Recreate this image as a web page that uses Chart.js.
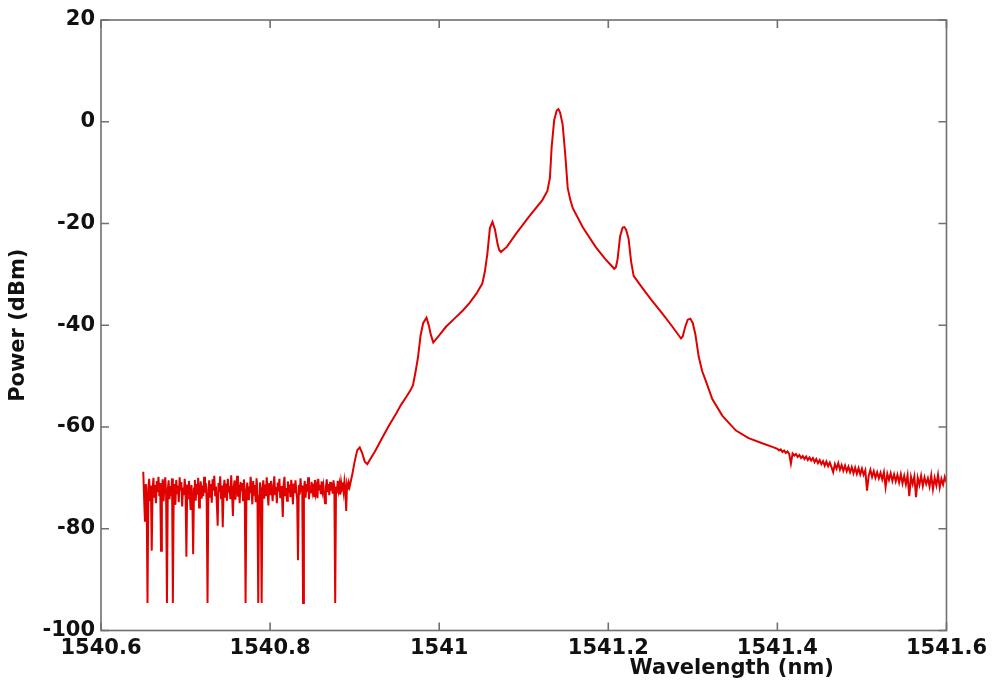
<!DOCTYPE html>
<html>
<head>
<meta charset="utf-8">
<script src="https://cdn.jsdelivr.net/npm/chart.js@4.4.1/dist/chart.umd.min.js"></script>
<style>
  html, body { margin: 0; padding: 0; background: #ffffff; }
  #wrap { width: 992px; height: 687px; }
</style>
</head>
<body>
<div id="wrap"><canvas id="spectrum" width="992" height="687"></canvas></div>
<script>
// Axis ticks
const xTicks = [1540.6, 1540.8, 1541, 1541.2, 1541.4, 1541.6];
const yTicks = [-100, -80, -60, -40, -20, 0, 20];
const xTitle = 'Wavelength (nm)';
const yTitle = 'Power (dBm)';

// Noise floor on the short-wavelength side (nm / dBm)
const floorWl = [
  1540.650,1540.651,1540.652,1540.653,1540.654,1540.655,1540.656,1540.657,1540.658,1540.659,
  1540.660,1540.661,1540.662,1540.663,1540.664,1540.665,1540.666,1540.667,1540.668,1540.669,
  1540.670,1540.671,1540.672,1540.673,1540.674,1540.675,1540.676,1540.677,1540.678,1540.679,
  1540.680,1540.681,1540.682,1540.683,1540.684,1540.685,1540.686,1540.687,1540.688,1540.689,
  1540.690,1540.691,1540.692,1540.693,1540.694,1540.695,1540.696,1540.697,1540.698,1540.699,
  1540.700,1540.701,1540.702,1540.703,1540.704,1540.705,1540.706,1540.707,1540.708,1540.709,
  1540.710,1540.711,1540.712,1540.713,1540.714,1540.715,1540.716,1540.717,1540.718,1540.719,
  1540.720,1540.721,1540.722,1540.723,1540.724,1540.725,1540.726,1540.727,1540.728,1540.729,
  1540.730,1540.731,1540.732,1540.733,1540.734,1540.735,1540.736,1540.737,1540.738,1540.739,
  1540.740,1540.741,1540.742,1540.743,1540.744,1540.745,1540.746,1540.747,1540.748,1540.749,
  1540.750,1540.751,1540.752,1540.753,1540.754,1540.755,1540.756,1540.757,1540.758,1540.759,
  1540.760,1540.761,1540.762,1540.763,1540.764,1540.765,1540.766,1540.767,1540.768,1540.769,
  1540.770,1540.771,1540.772,1540.773,1540.774,1540.775,1540.776,1540.777,1540.778,1540.779,
  1540.780,1540.781,1540.782,1540.783,1540.784,1540.785,1540.786,1540.787,1540.788,1540.789,
  1540.790,1540.791,1540.792,1540.793,1540.794,1540.795,1540.796,1540.797,1540.798,1540.799,
  1540.800,1540.801,1540.802,1540.803,1540.804,1540.805,1540.806,1540.807,1540.808,1540.809,
  1540.810,1540.811,1540.812,1540.813,1540.814,1540.815,1540.816,1540.817,1540.818,1540.819,
  1540.820,1540.821,1540.822,1540.823,1540.824,1540.825,1540.826,1540.827,1540.828,1540.829,
  1540.830,1540.831,1540.832,1540.833,1540.834,1540.835,1540.836,1540.837,1540.838,1540.839,
  1540.840,1540.841,1540.842,1540.843,1540.844,1540.845,1540.846,1540.847,1540.848,1540.849,
  1540.850,1540.851,1540.852,1540.853,1540.854,1540.855,1540.856,1540.857,1540.858,1540.859,
  1540.860,1540.861,1540.862,1540.863,1540.864,1540.865,1540.866,1540.867,1540.868,1540.869,
  1540.870,1540.871,1540.872,1540.873,1540.874,1540.875,1540.876,1540.877,1540.878,1540.879,
  1540.880,1540.881,1540.882,1540.883,1540.884,1540.885,1540.886,1540.887,1540.888,1540.889,
  1540.890,1540.891,1540.892,1540.893,1540.894
];
const floorPw = [
  -68.8,-74.0,-78.6,-71.2,-73.8,-94.6,-72.0,-70.2,-74.4,-71.5,
  -84.3,-72.6,-70.0,-73.9,-71.4,-75.0,-70.6,-72.8,-69.8,-73.6,
  -71.0,-84.3,-72.2,-70.3,-74.6,-71.8,-69.9,-73.2,-94.6,-72.4,
  -70.5,-74.2,-71.6,-73.5,-70.1,-94.6,-72.8,-71.2,-75.3,-70.4,
  -73.0,-71.5,-74.8,-69.9,-72.5,-70.8,-75.6,-71.9,-73.4,-70.2,
  -72.7,-85.5,-71.3,-74.0,-70.6,-73.1,-76.3,-71.4,-73.8,-85.0,
  -72.1,-70.4,-74.5,-71.2,-73.3,-70.0,-75.8,-72.6,-70.7,-74.1,
  -71.5,-73.6,-69.8,-72.9,-71.0,-74.6,-94.6,-72.3,-70.5,-73.7,
  -71.2,-74.9,-70.3,-72.5,-69.6,-73.4,-71.7,-75.1,-79.4,-71.0,
  -72.8,-69.7,-74.0,-71.5,-79.7,-72.2,-70.4,-73.9,-71.1,-74.5,
  -70.2,-72.9,-71.6,-74.2,-69.5,-73.0,-77.5,-71.8,-70.5,-74.3,
  -72.0,-69.6,-73.7,-71.3,-75.0,-70.8,-72.6,-71.0,-74.4,-70.3,
  -72.5,-94.6,-73.1,-70.9,-74.2,-71.7,-73.0,-69.8,-72.4,-75.2,
  -70.6,-73.3,-71.4,-74.8,-70.1,-72.7,-94.6,-73.5,-70.9,-72.8,
  -94.6,-72.0,-70.5,-74.1,-71.3,-73.6,-69.9,-72.6,-75.4,-71.0,
  -73.2,-70.6,-72.4,-74.6,-71.5,-69.7,-73.4,-71.8,-75.0,-70.9,
  -72.7,-70.2,-74.0,-71.6,-73.1,-77.7,-71.2,-69.8,-73.6,-72.0,
  -74.5,-70.7,-72.9,-71.3,-73.8,-70.4,-72.2,-75.2,-71.1,-73.0,
  -70.5,-72.6,-74.1,-86.2,-71.4,-73.3,-70.1,-72.8,-71.5,-94.6,
  -72.4,-70.6,-73.9,-71.2,-72.7,-69.9,-74.2,-71.6,-73.0,-70.8,
  -72.5,-71.1,-73.6,-70.4,-72.9,-71.8,-74.0,-70.2,-72.3,-71.4,
  -73.2,-70.7,-72.6,-71.5,-73.5,-75.0,-71.9,-70.3,-72.8,-71.2,
  -73.4,-70.8,-72.5,-71.0,-73.1,-70.5,-72.2,-94.6,-71.7,-73.0,
  -70.6,-72.4,-71.3,-73.3,-70.9,-72.1,-71.6,-72.9,-70.7,-72.0,
  -76.5,-71.4,-72.3,-71.0,-71.8
];

// Comb of lines around the carrier
const combWl = [
  1540.897,1540.900,1540.903,1540.906,1540.909,1540.912,1540.915,1540.919,1540.924,1540.933,
  1540.941,1540.949,1540.955,1540.961,1540.966,1540.969,1540.972,1540.975,1540.978,1540.981,
  1540.985,1540.988,1540.990,1540.993,1541.000,1541.008,1541.018,1541.028,1541.036,1541.044,
  1541.051,1541.054,1541.057,1541.060,1541.063,1541.066,1541.069,1541.071,1541.073,1541.080,
  1541.091,1541.106,1541.122,1541.128,1541.131,1541.133,1541.136,1541.139,1541.141,1541.143,
  1541.146,1541.149,1541.152,1541.155,1541.158,1541.170,1541.185,1541.196,1541.207,1541.209,
  1541.211,1541.214,1541.217,1541.219,1541.221,1541.224,1541.227,1541.230,1541.240,1541.250,
  1541.264,1541.275,1541.286,1541.288,1541.291,1541.294,1541.297,1541.300,1541.303,1541.307,
  1541.311,1541.315,1541.323,1541.335,1541.351,1541.366,1541.382,1541.394
];
const combPw = [
  -69.5,-66.8,-64.6,-64.0,-65.2,-66.8,-67.3,-66.2,-64.8,-62.0,
  -59.6,-57.4,-55.6,-54.1,-52.8,-51.8,-49.2,-46.2,-42.0,-39.6,
  -38.5,-40.2,-41.8,-43.4,-42.0,-40.3,-38.7,-37.1,-35.6,-33.8,
  -31.8,-29.5,-25.9,-20.9,-19.7,-21.2,-24.0,-25.2,-25.6,-24.6,
  -22.0,-18.7,-15.4,-13.6,-11.0,-5.0,0.3,2.2,2.5,1.8,
  -0.5,-6.2,-13.0,-15.3,-17.0,-20.8,-24.6,-26.9,-28.9,-28.6,
  -27.0,-22.5,-20.8,-20.7,-21.2,-23.0,-27.5,-30.3,-32.6,-34.8,
  -37.7,-40.1,-42.6,-42.2,-40.3,-38.9,-38.7,-39.6,-41.8,-46.2,
  -49.0,-50.8,-54.5,-57.8,-60.7,-62.2,-63.2,-63.9
];

// Long-wavelength tail
const tailWl = [
  1541.400,1541.402,1541.404,1541.406,1541.408,1541.410,1541.412,1541.414,1541.416,1541.418,
  1541.420,1541.422,1541.424,1541.426,1541.428,1541.430,1541.432,1541.434,1541.436,1541.438,
  1541.440,1541.442,1541.444,1541.446,1541.448,1541.450,1541.452,1541.454,1541.456,1541.458,
  1541.460,1541.462,1541.464,1541.466,1541.468,1541.470,1541.472,1541.474,1541.476,1541.478,
  1541.480,1541.482,1541.484,1541.486,1541.488,1541.490,1541.492,1541.494,1541.496,1541.498,
  1541.500,1541.502,1541.504,1541.506,1541.508,1541.510,1541.512,1541.514,1541.516,1541.518,
  1541.520,1541.522,1541.524,1541.526,1541.528,1541.530,1541.532,1541.534,1541.536,1541.538,
  1541.540,1541.542,1541.544,1541.546,1541.548,1541.550,1541.552,1541.554,1541.556,1541.558,
  1541.560,1541.562,1541.564,1541.566,1541.568,1541.570,1541.572,1541.574,1541.576,1541.578,
  1541.580,1541.582,1541.584,1541.586,1541.588,1541.590,1541.592,1541.594,1541.596,1541.598,
  1541.600
];
const tailPw = [
  -64.3,-64.6,-64.4,-64.9,-64.6,-65.1,-64.8,-65.3,-67.2,-65.2,
  -65.6,-65.3,-65.9,-65.5,-66.1,-65.7,-66.3,-65.8,-66.5,-66.0,
  -66.6,-66.1,-66.9,-66.3,-67.1,-66.5,-67.3,-66.7,-67.6,-66.8,
  -67.7,-67.0,-67.9,-68.9,-67.3,-68.2,-67.1,-68.4,-67.5,-68.6,
  -67.6,-68.7,-67.8,-68.9,-67.9,-69.1,-68.0,-69.2,-68.1,-69.3,
  -68.2,-69.4,-68.5,-72.5,-69.6,-68.4,-69.8,-68.7,-70.0,-68.9,
  -70.1,-69.0,-70.3,-68.9,-71.8,-69.2,-70.4,-69.1,-70.6,-69.3,
  -70.7,-69.4,-70.9,-69.3,-71.1,-69.6,-71.3,-69.5,-73.6,-69.8,
  -71.2,-69.7,-73.8,-70.0,-71.4,-69.6,-71.6,-69.9,-71.2,-70.1,
  -71.7,-69.5,-72.2,-70.0,-71.5,-69.4,-71.9,-70.2,-71.3,-69.8,
  -70.9
];

const points = [];
[[floorWl, floorPw], [combWl, combPw], [tailWl, tailPw]].forEach(([wl, pw]) => {
  wl.forEach((w, i) => points.push({ x: w, y: pw[i] }));
});

const FONT = "'DejaVu Sans', sans-serif";
const INK = '#111111';
const FRAME = '#707070';

// Boxed frame with inward tick marks on all four sides, plus the x-axis title
const framePlugin = {
  id: 'frame',
  afterDatasetsDraw(chart) {
    const { ctx, chartArea: a, scales: { x, y } } = chart;
    ctx.save();
    ctx.strokeStyle = FRAME;
    ctx.lineWidth = 1.6;
    ctx.strokeRect(a.left, a.top, a.right - a.left, a.bottom - a.top);
    ctx.beginPath();
    x.ticks.forEach(t => {
      const px = x.getPixelForValue(t.value);
      ctx.moveTo(px, a.bottom); ctx.lineTo(px, a.bottom - 8);
      ctx.moveTo(px, a.top); ctx.lineTo(px, a.top + 8);
    });
    y.ticks.forEach(t => {
      const py = y.getPixelForValue(t.value);
      ctx.moveTo(a.left, py); ctx.lineTo(a.left + 8, py);
      ctx.moveTo(a.right, py); ctx.lineTo(a.right - 8, py);
    });
    ctx.stroke();
    ctx.fillStyle = INK;
    ctx.font = 'bold 21px ' + FONT;
    ctx.textAlign = 'center';
    ctx.textBaseline = 'middle';
    ctx.fillText(xTitle, a.left + (a.right - a.left) * 0.746, a.bottom + 38);
    ctx.restore();
  }
};

new Chart(document.getElementById('spectrum'), {
  type: 'line',
  data: {
    datasets: [{
      data: points,
      borderColor: '#e00000',
      borderWidth: 2,
      pointRadius: 0,
      tension: 0,
      fill: false
    }]
  },
  options: {
    responsive: false,
    animation: false,
    devicePixelRatio: 1,
    layout: { padding: { left: 0, top: 20, right: 43.5, bottom: 0 } },
    plugins: { legend: { display: false }, tooltip: { enabled: false } },
    scales: {
      x: {
        type: 'linear',
        min: 1540.6,
        max: 1541.6,
        afterBuildTicks: s => { s.ticks = xTicks.map(v => ({ value: v })); },
        afterFit: s => { s.height = 56.5; },
        grid: { display: false, drawTicks: false },
        border: { display: false },
        ticks: {
          autoSkip: false,
          maxRotation: 0,
          padding: 5,
          color: INK,
          font: { family: FONT, size: 21, weight: 'bold' },
          callback: v => String(Number(Number(v).toFixed(1)))
        }
      },
      y: {
        type: 'linear',
        min: -100,
        max: 20,
        afterBuildTicks: s => { s.ticks = yTicks.map(v => ({ value: v })); },
        afterFit: s => { s.width = 101; },
        grid: { display: false, drawTicks: false },
        border: { display: false },
        ticks: {
          padding: 6,
          color: INK,
          font: { family: FONT, size: 21, weight: 'bold' }
        },
        title: {
          display: true,
          text: yTitle,
          color: INK,
          padding: { top: 6, bottom: 0 },
          font: { family: FONT, size: 21, weight: 'bold' }
        }
      }
    }
  },
  plugins: [framePlugin]
});
</script>
</body>
</html>
